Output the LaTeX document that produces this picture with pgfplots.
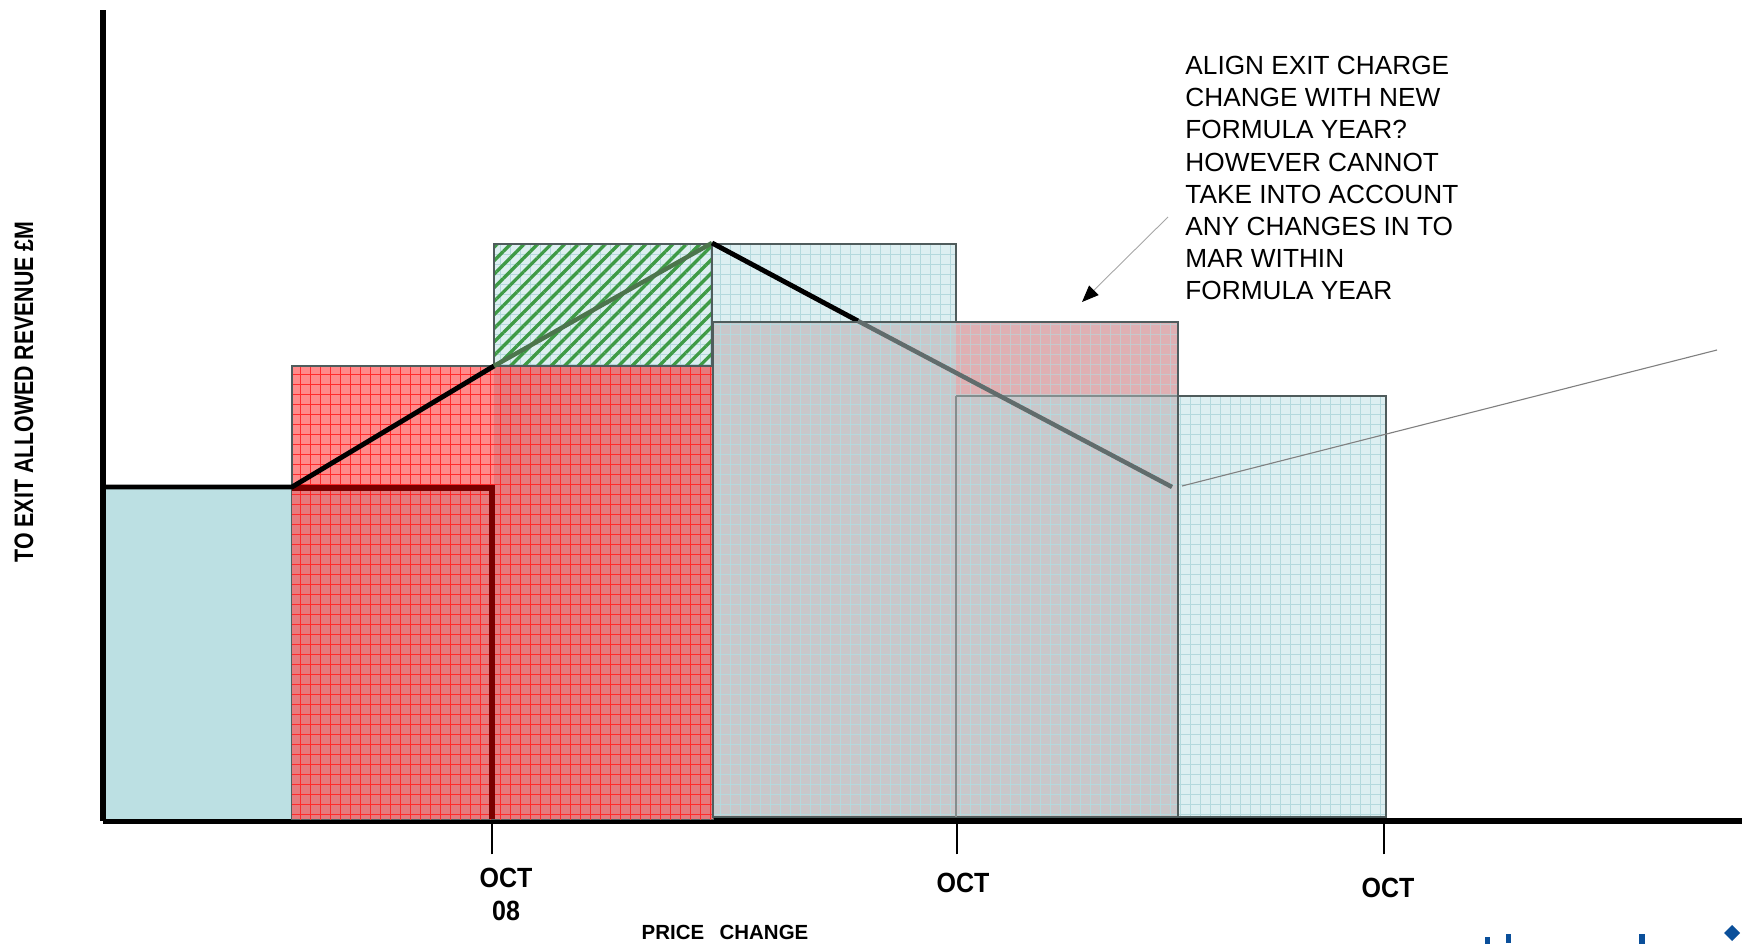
\documentclass[border=0pt]{standalone}
\usepackage{pgfplots}
\pgfplotsset{compat=1.18}
\usepackage{fontspec}
\setmainfont{Liberation Sans}
\usetikzlibrary{patterns.meta,arrows.meta}
\definecolor{lbsolid}{HTML}{BCE0E3}
\definecolor{lbgrid}{HTML}{DDEFF1}
\definecolor{lbline}{HTML}{B4D9DD}
\definecolor{redlight}{HTML}{FF8A8A}
\definecolor{reddark}{HTML}{E67A7D}
\definecolor{redline}{HTML}{FF2A2A}
\definecolor{darkred}{HTML}{7A0000}
\definecolor{grayfill}{HTML}{C9C7CA}
\definecolor{pinkfill}{HTML}{DFB0B3}
\definecolor{greenstripe}{HTML}{3E9A45}
\definecolor{border}{HTML}{4F5C5C}
\definecolor{logoblue}{HTML}{0A4F9A}
\tikzset{
  gridpat/.style={postaction={pattern={Hatch[distance=4.5pt,angle=0,line width=0.45pt]},pattern color=#1}},
}
\begin{document}
\begin{tikzpicture}
\begin{axis}[
  scale only axis,
  width=737.55pt, height=364.95pt,
  xmin=103, xmax=1742, ymin=123, ymax=934,
  axis lines=left,
  axis line style={-, line width=2.6pt},
  xtick={492,957,1384}, xticklabels={},
  xtick align=outside,
  major tick length=15pt,
  every tick/.style={black, line width=0.5pt},
  ytick=\empty,
  clip=false,
  axis on top=false,
]
% big light-blue grid rectangle (behind)
\addplot[fill=lbgrid, draw=border, line width=0.6pt, gridpat=lbline] coordinates {(494,127) (956,127) (956,700) (494,700)} --cycle;
% solid light-blue first year
\addplot[fill=lbsolid, draw=none] coordinates {(106,125) (292,125) (292,457) (106,457)} --cycle;
% red rectangle
\addplot[fill=redlight, draw=border, line width=0.5pt, gridpat=redline] coordinates {(292,125) (713,125) (713,578) (292,578)} --cycle;
\addplot[fill=reddark, draw=none, gridpat=redline] coordinates {(292,125) (494,125) (494,457) (292,457)} --cycle;
\addplot[fill=reddark, draw=none, gridpat=redline] coordinates {(494,125) (713,125) (713,578) (494,578)} --cycle;
\addplot[draw=darkred, line width=2.4pt] coordinates {(292,456) (492,456) (492,125)};
% green hatched rectangle
\addplot[fill=lbgrid, draw=none, gridpat=lbline] coordinates {(494,578) (712,578) (712,700) (494,700)} --cycle;
\addplot[draw=border, line width=0.8pt, pattern={Lines[angle=45,distance=4.3pt,line width=1.5pt]}, pattern color=greenstripe] coordinates {(494,578) (712,578) (712,700) (494,700)} --cycle;
% black profile line (under overlays)
\addplot[draw=black, line width=2.2pt] coordinates {(103,457) (292,457) (494,578)};
\addplot[draw=black!60!green!40!gray, line width=2pt] coordinates {(494,578) (712,701)};
\addplot[draw=black, line width=2.2pt] coordinates {(712,701) (858,623)};
% gray rectangle
\addplot[fill=grayfill, draw=border, line width=0.8pt, gridpat=lbline] coordinates {(713,127) (1178,127) (1178,622) (713,622)} --cycle;
% pink top
\addplot[fill=pinkfill, draw=none, gridpat=lbline!60!pinkfill] coordinates {(956,548) (1178,548) (1178,622) (956,622)} --cycle;
\addplot[draw=border, line width=0.8pt] coordinates {(956,622) (1178,622) (1178,127)};
\addplot[draw=border!70, line width=0.8pt] coordinates {(956,548) (956,127)};
\addplot[draw=border!70, line width=0.5pt] coordinates {(956,548) (1178,548)};
% light-blue right rectangle
\addplot[fill=lbgrid, draw=border, line width=0.8pt, gridpat=lbline] coordinates {(1178,127) (1386,127) (1386,548) (1178,548)} --cycle;
% line through the gray rectangle
\addplot[draw=border!90, line width=2pt] coordinates {(858,623) (1172,457)};
% pointer line
\addplot[draw=gray, line width=0.5pt] coordinates {(1182,458) (1717,594)};
% logo fragments
\addplot[fill=logoblue, draw=none] coordinates {(1485,0) (1490,0) (1490,7) (1485,7)} --cycle;
\addplot[fill=logoblue, draw=none] coordinates {(1506,1) (1511,1) (1511,10) (1506,10)} --cycle;
\addplot[fill=logoblue, draw=none] coordinates {(1639,0) (1645,0) (1645,10) (1639,10)} --cycle;
\addplot[fill=logoblue, draw=none] coordinates {(1724,11) (1732,19) (1740,11) (1732,3)} --cycle;
% annotation
\draw[gray!70, line width=0.4pt, -{Triangle[length=7.5pt,width=6pt,black]}] (axis cs:1168,727) -- (axis cs:1082,642);
\node[anchor=north west, inner sep=0pt, align=left, font=\fontsize{11.8}{14.45}\selectfont] at (axis cs:1185,888)
  {ALIGN EXIT CHARGE\\CHANGE WITH NEW\\FORMULA YEAR?\\HOWEVER CANNOT\\TAKE INTO ACCOUNT\\ANY CHANGES IN TO\\MAR WITHIN\\FORMULA YEAR};
% tick labels and axis labels
\node[font=\bfseries\fontsize{12.5}{14}\selectfont] at (axis cs:506,66) {\scalebox{0.9}[1]{OCT}};
\node[font=\bfseries\fontsize{12.5}{14}\selectfont] at (axis cs:506,33) {\scalebox{0.9}[1]{08}};
\node[font=\bfseries\fontsize{12.5}{14}\selectfont] at (axis cs:963,61) {\scalebox{0.9}[1]{OCT}};
\node[font=\bfseries\fontsize{12.5}{14}\selectfont] at (axis cs:1388,56) {\scalebox{0.9}[1]{OCT}};
\node[font=\bfseries\fontsize{9.2}{11}\selectfont] at (axis cs:725,12) {PRICE\hspace{7pt}CHANGE};
\node[font=\bfseries\fontsize{12}{14}\selectfont, rotate=90] at (axis cs:24,552) {\scalebox{0.8}[1]{TO EXIT ALLOWED REVENUE £M}};
\coordinate (BL) at (axis cs:0,0);
\coordinate (TR) at (axis cs:1742,944);
\end{axis}
\pgfresetboundingbox
\useasboundingbox (BL) rectangle (TR);
\end{tikzpicture}
\end{document}
